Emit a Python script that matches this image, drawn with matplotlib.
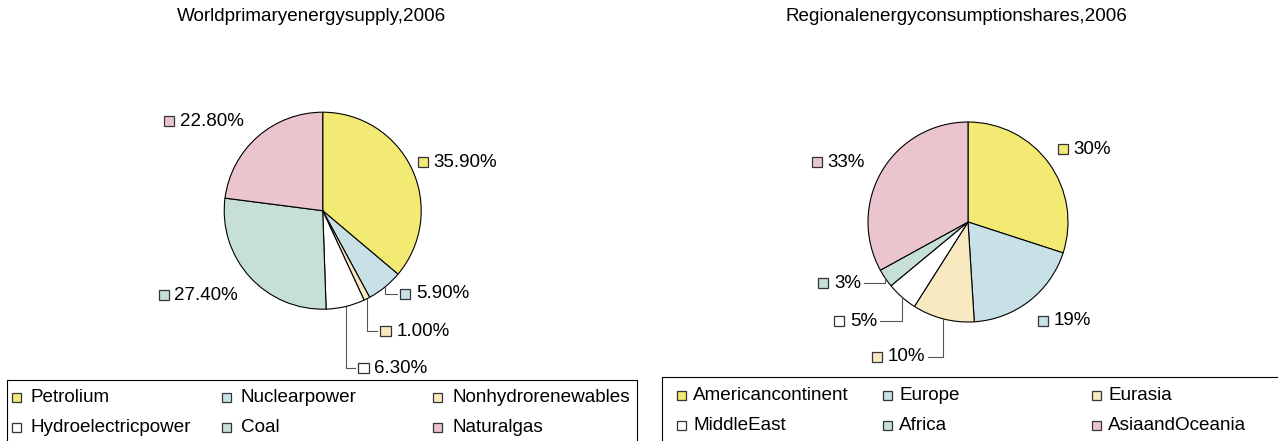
import numpy as np
import matplotlib
matplotlib.use("Agg")
import matplotlib.pyplot as plt
from matplotlib.patches import Rectangle
from matplotlib.offsetbox import AnnotationBbox, DrawingArea, TextArea, HPacker

plt.rcParams['font.family'] = ['Liberation Sans', 'DejaVu Sans']

W, H = 1278, 441

# left chart
energy_title = "Worldprimaryenergysupply,2006"
energy_sources = ["Petrolium", "Nuclearpower", "Nonhydrorenewables",
                  "Hydroelectricpower", "Coal", "Naturalgas"]
energy_shares = [35.9, 5.9, 1.0, 6.3, 27.4, 22.8]

# right chart
region_title = "Regionalenergyconsumptionshares,2006"
regions = ["Americancontinent", "Europe", "Eurasia",
           "MiddleEast", "Africa", "AsiaandOceania"]
region_shares = [30, 19, 10, 5, 3, 33]

colors = ["#F2EA73", "#C8E1E6", "#F8E9C1", "#FFFFFF", "#C6DFD7", "#EBC5CD"]

# label placement: shift from mid angle (deg), distance from center (radius units)
energy_lab_shift = [2.1, 3.8, -1.0, -0.6, 2.6, 0.0]
energy_lab_dist = [1.086, 1.154, 1.355, 1.638, 1.213, 1.212]
energy_leader = [False, True, True, True, False, False]

region_lab_shift = [3.2, -2.7, -3.3, -1.2, -4.5, 0.4]
region_lab_dist = [1.155, 1.21, 1.417, 1.345, 1.232, 1.192]
region_leader = [False, False, True, True, True, False]

FS = 13.5
TITLE_FS = 13.6
LEG_FS = 13.6
MK = 7.4  # label marker size in points (~10 px)

fig = plt.figure(figsize=(W / 100, H / 100), dpi=100)


def draw_pie(cx, cy, r, shares, labels, lab_shift, lab_dist, leaders):
    ax = fig.add_axes([(cx - r) / W, 1 - (cy + r) / H, 2 * r / W, 2 * r / H])
    wedges, _ = ax.pie(shares, colors=colors, startangle=90, counterclock=False,
                       wedgeprops=dict(edgecolor='black', linewidth=0.8))
    ax.set_xlim(-1, 1)
    ax.set_ylim(-1, 1)
    for i, w in enumerate(wedges):
        mid = np.deg2rad((w.theta1 + w.theta2) / 2)
        ang = mid + np.deg2rad(lab_shift[i])
        lx, ly = lab_dist[i] * np.cos(ang), lab_dist[i] * np.sin(ang)
        right = lx > 0

        da = DrawingArea(MK, MK, 0, 0)
        da.add_artist(Rectangle((0, 0), MK, MK, fc=colors[i], ec='#333333', lw=0.9))
        ta = TextArea(labels[i], textprops=dict(fontsize=FS))
        box = HPacker(children=[da, ta], align='center', pad=0, sep=4)
        ab = AnnotationBbox(box, (lx, ly), xycoords='data',
                            box_alignment=(0 if right else 1, 0.5),
                            frameon=False, pad=0, annotation_clip=False)
        ax.add_artist(ab)

        if leaders[i]:
            ex, ey = np.cos(mid), np.sin(mid)
            gap = 3 / r
            end_x = lx - gap if right else lx + gap
            ax.plot([ex, ex, end_x], [ey, ly, ly], color='#555555', lw=0.8,
                    clip_on=False)
    return ax


def draw_legend(x0, x1, top, rows, cols, txt_off, names):
    fig.add_artist(Rectangle((x0 / W, -0.1), (x1 - x0) / W, (H - top) / H + 0.1,
                             transform=fig.transFigure, fill=False,
                             ec='black', lw=0.8))
    for k, name in enumerate(names):
        row, col = divmod(k, 3)
        fig.add_artist(Rectangle((cols[col] / W, 1 - (rows[row] + 4.5) / H),
                                 9 / W, 9 / H, transform=fig.transFigure,
                                 fc=colors[k], ec='#333333', lw=0.9))
        fig.text((cols[col] + txt_off) / W, 1 - rows[row] / H, name,
                 va='center', ha='left', fontsize=LEG_FS)


energy_labels = [f"{v:.2f}%" for v in energy_shares]
region_labels = [f"{v:.0f}%" for v in region_shares]

draw_pie(322.7, 210.7, 98.5, energy_shares, energy_labels,
         energy_lab_shift, energy_lab_dist, energy_leader)
draw_pie(968, 222, 100, region_shares, region_labels,
         region_lab_shift, region_lab_dist, region_leader)

fig.text(311.5 / W, 1 - 21 / H, energy_title, ha='center', va='baseline',
         fontsize=TITLE_FS)
fig.text(956 / W, 1 - 21 / H, region_title, ha='center', va='baseline',
         fontsize=TITLE_FS)

draw_legend(7, 637, 380, [397, 427], [12, 222, 433], 19, energy_sources)
draw_legend(662, 1300, 377, [395, 425], [677, 883, 1092], 16, regions)

fig.savefig("out.png", dpi=100)
